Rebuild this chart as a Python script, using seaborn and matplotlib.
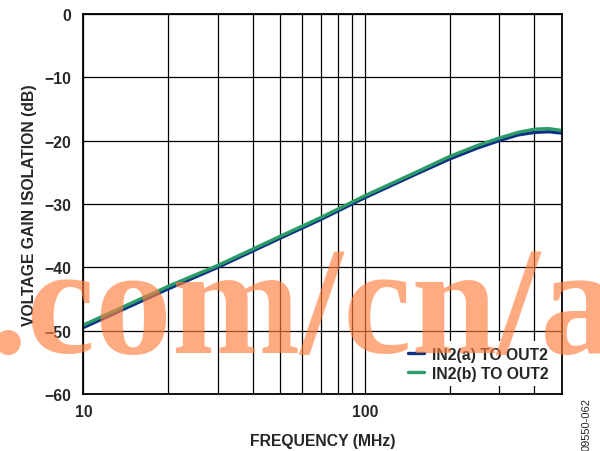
import numpy as np
import pandas as pd
import seaborn as sns
import matplotlib.pyplot as plt
from matplotlib.ticker import FixedLocator, NullFormatter

# frequency points (MHz)
freq = [10, 20, 30, 50, 70, 100, 150, 200, 250, 300, 350, 400, 450, 500]
iso_a = [-49.5, -43.4, -40.0, -35.4, -32.4, -29.0, -25.4, -22.9, -21.2, -20.0, -19.1, -18.7, -18.6, -18.8]
iso_b = [-49.1, -43.0, -39.7, -35.1, -32.1, -28.7, -25.1, -22.5, -20.8, -19.6, -18.7, -18.2, -18.1, -18.4]

labels = ['IN2(a) TO OUT2', 'IN2(b) TO OUT2']
colors = ['#0f2f85', '#2b9c68']

y_ticks = [0, -10, -20, -30, -40, -50, -60]
x_major = [10, 100]
x_minor = [20, 30, 40, 50, 60, 70, 80, 90, 200, 300, 400]

FS = 11.3


def main():
    sns.set_style('white')
    plt.rcParams['font.family'] = ['Liberation Sans', 'DejaVu Sans']

    df = pd.DataFrame({
        'freq': freq * 2,
        'iso': iso_a + iso_b,
        'trace': [labels[0]] * len(freq) + [labels[1]] * len(freq),
    })

    fig = plt.figure(figsize=(6.0, 4.52), dpi=100)
    ax = fig.add_axes([0.139, 0.126, 0.797, 0.841])

    sns.lineplot(data=df, x='freq', y='iso', hue='trace', palette=colors,
                 linewidth=2.4, ax=ax, legend=True, sort=True)
    ax.set_xscale('log')
    ax.set_xlim(10, 500)
    ax.set_ylim(-60, 0)

    ax.xaxis.set_major_locator(FixedLocator(x_major))
    ax.xaxis.set_minor_locator(FixedLocator(x_minor))
    ax.xaxis.set_minor_formatter(NullFormatter())
    ax.set_xticklabels([str(v) for v in x_major], fontweight='bold', fontsize=FS)
    ax.set_yticks(y_ticks)
    ax.set_yticklabels([str(v).replace('-', '\u2212') for v in y_ticks],
                       fontweight='bold', fontsize=FS)
    ax.tick_params(axis='y', which='both', length=0, pad=9)
    ax.tick_params(axis='x', which='both', length=0, pad=7)

    ax.grid(True, which='major', color='black', linewidth=0.9)
    ax.grid(True, which='minor', axis='x', color='black', linewidth=0.9)
    ax.set_axisbelow(True)
    for s in ax.spines.values():
        s.set_color('black')
        s.set_linewidth(1.3)

    ax.set_xlabel('FREQUENCY (MHz)', fontweight='bold', fontsize=FS, labelpad=10)
    ax.set_ylabel('VOLTAGE GAIN ISOLATION (dB)', fontweight='bold', fontsize=FS, labelpad=5)

    leg = ax.legend(loc='lower right', frameon=True, fancybox=False, handlelength=1.0,
                    handletextpad=0.5, borderpad=0.35, labelspacing=0.25,
                    prop={'weight': 'bold', 'size': FS})
    leg.get_frame().set_edgecolor('none')
    leg.get_frame().set_facecolor('white')
    leg.get_frame().set_alpha(1)

    fig.text(0.978, 0.06, '09550-062', rotation=90, fontsize=8, ha='center', va='center')

    # site watermark
    fig.text(-0.02, 0.22, '.com/cn/ad', fontsize=111, fontweight='bold',
             family='Liberation Serif', color='#ff7f3f', alpha=0.65, zorder=10)

    fig.savefig('out.png', dpi=100)


if __name__ == '__main__':
    main()
